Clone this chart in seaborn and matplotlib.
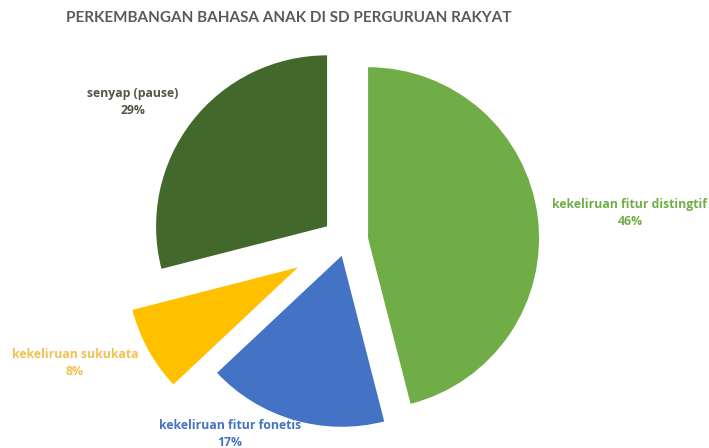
import matplotlib
matplotlib.use("Agg")
import matplotlib.pyplot as plt
import seaborn as sns

categories = ["kekeliruan fitur distingtif", "kekeliruan fitur fonetis",
              "kekeliruan sukukata", "senyap (pause)"]
values = [46, 17, 8, 29]
title = "PERKEMBANGAN BAHASA ANAK DI SD PERGURUAN RAKYAT"

colors = ["#70AD47", "#4472C4", "#FFC000", "#43682B"]
label_colors = ["#70AD47", "#4472C4", "#F2C14E", "#505848"]
explode = [0.13, 0.09, 0.32, 0.14]

sns.set_theme(style="white")
plt.rcParams["font.family"] = ["Lato", "DejaVu Sans"]

W, H = 709, 448
fig = plt.figure(figsize=(W / 100, H / 100), dpi=100)
ax = fig.add_axes([0, 0, 1, 1])

cx, cy, r = 346, 241, 171
ax.pie(values, colors=colors, startangle=90, counterclock=False,
       explode=explode, radius=1, wedgeprops=dict(linewidth=0))
ax.set_aspect("auto")
ax.set_xlim(-cx / r, (W - cx) / r)
ax.set_ylim(-(H - cy) / r, cy / r)
ax.axis("off")

# label anchor positions (pixels)
label_pos = [(630, 213), (230, 434), (75, 363), (133, 102)]
total = sum(values)
for cat, v, (px, py), c in zip(categories, values, label_pos, label_colors):
    ax.text((px - cx) / r, (cy - py) / r, f"{cat}\n{round(100 * v / total)}%",
            ha="center", va="center", color=c, fontsize=8.8,
            fontweight="bold", linespacing=1.4,
            family=["Open Sans", "DejaVu Sans"])

fig.text(289 / W, 1 - 18 / H, title, ha="center", va="center",
         color="#595959", fontsize=11, fontweight="bold")

fig.savefig("out.png", dpi=100)
